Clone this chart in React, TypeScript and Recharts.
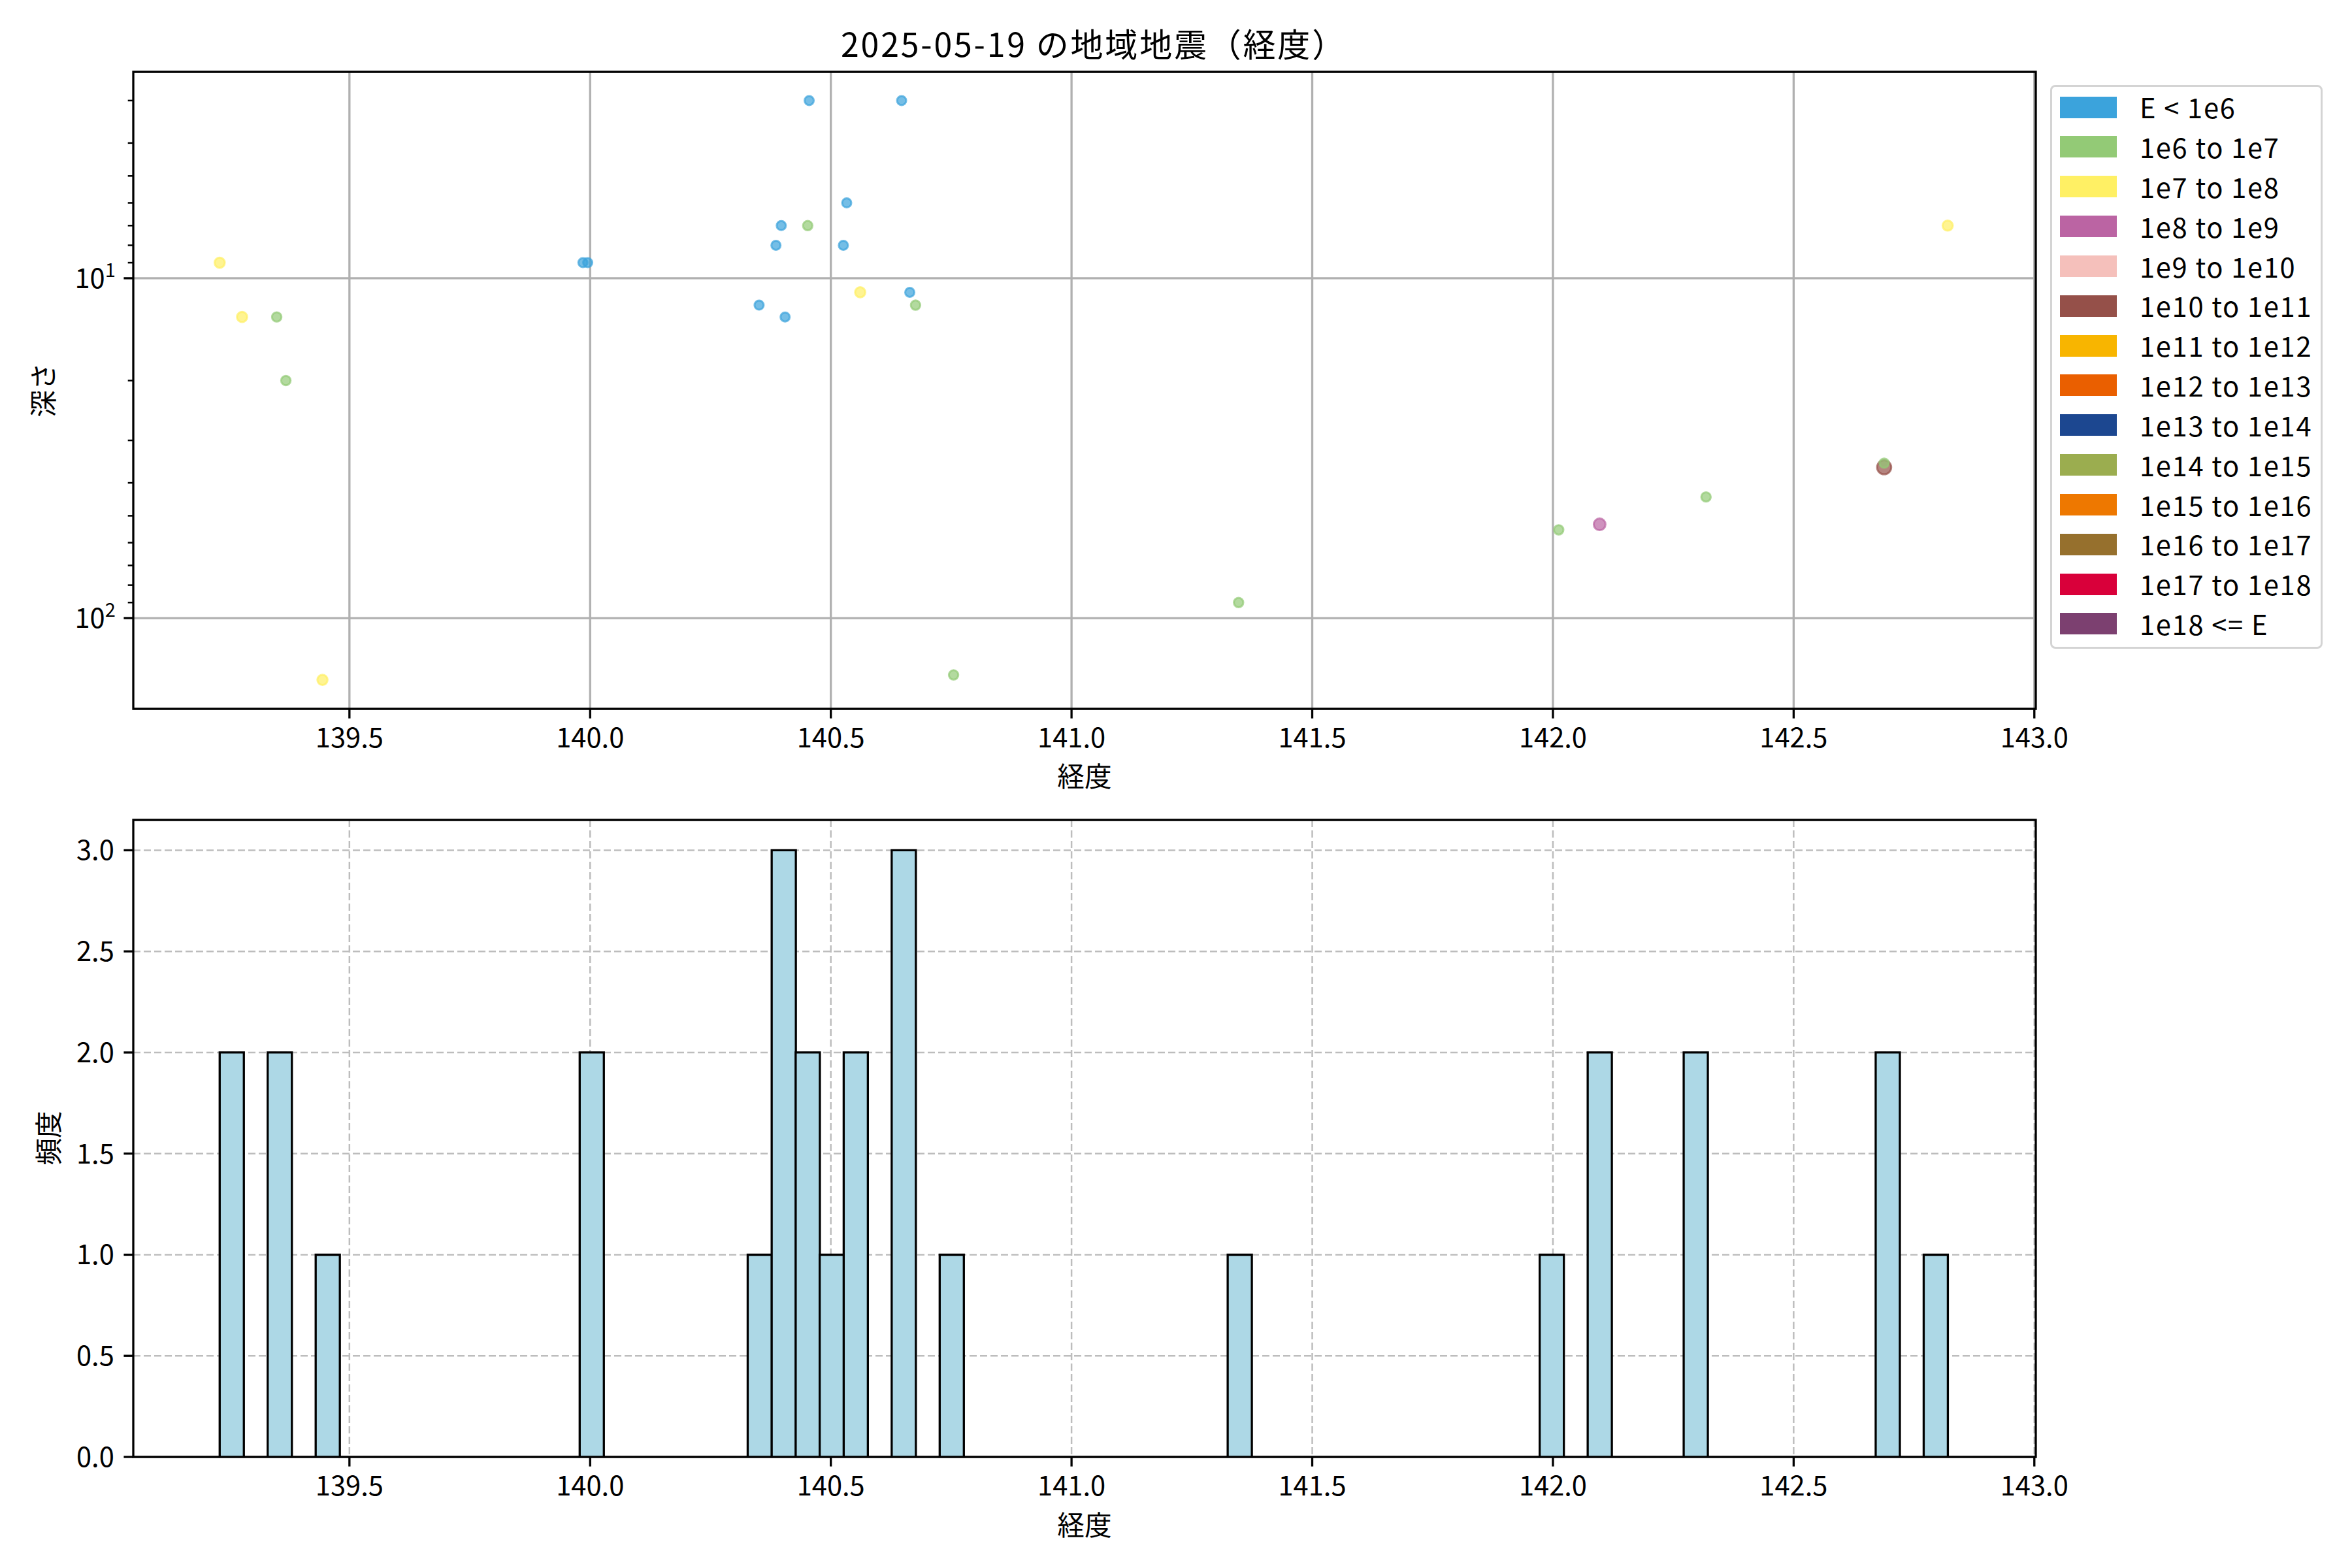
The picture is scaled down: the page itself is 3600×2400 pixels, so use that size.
import React from 'react';
import {
  ScatterChart,
  Scatter,
  ComposedChart,
  Bar,
  XAxis,
  YAxis,
  CartesianGrid,
  ReferenceArea,
} from 'recharts';

const FONT = '"Noto Sans CJK JP", "Noto Sans", sans-serif';

// energy classes (legend order)
const energyLabels = [
  'E < 1e6',
  '1e6 to 1e7',
  '1e7 to 1e8',
  '1e8 to 1e9',
  '1e9 to 1e10',
  '1e10 to 1e11',
  '1e11 to 1e12',
  '1e12 to 1e13',
  '1e13 to 1e14',
  '1e14 to 1e15',
  '1e15 to 1e16',
  '1e16 to 1e17',
  '1e17 to 1e18',
  '1e18 <= E',
];
const energyColors = [
  '#3ba3dc', '#93ca76', '#fff064', '#bb64a3', '#f5c0bb', '#955049', '#f8b500',
  '#ea5f00', '#1c4790', '#9bad4f', '#ee7800', '#96702d', '#d9003a', '#7c4070',
];

// events of the day: longitude, depth (km), energy class
// depth 0 can't be drawn on the log axis but still counts in the histogram
const quakeLon = [
  140.455, 140.647, 140.533, 140.397, 140.386, 140.526, 139.985, 139.995, 140.664, 140.351, 140.405,
  140.452, 139.349, 139.368, 140.676, 140.755, 141.347, 142.012, 142.318, 142.688,
  139.2305, 139.277, 139.444, 140.561, 142.82,
  142.097, 142.688,
  142.09, 142.3,
];
const quakeDepth = [
  3, 3, 6, 7, 8, 8, 9, 9, 11, 12, 13,
  7, 13, 20, 12, 147, 90, 55, 44, 35,
  9, 13, 152, 11, 7,
  53, 36,
  0, 0,
];
const quakeClass = [
  0, 0, 0, 0, 0, 0, 0, 0, 0, 0, 0,
  1, 1, 1, 1, 1, 1, 1, 1, 1,
  2, 2, 2, 2, 2,
  3, 5,
  1, 1,
];

const lonTicks = [139.5, 140.0, 140.5, 141.0, 141.5, 142.0, 142.5, 143.0];
const depthTicks = [3, 4, 5, 6, 7, 8, 9, 10, 20, 30, 40, 50, 60, 70, 80, 90, 100];
const depthMajor = [10, 100];
const countTicks = [0, 0.5, 1, 1.5, 2, 2.5, 3];
const HIST_BINS = 72;

const LON_DOMAIN: [number, number] = [139.051, 143.003];
const DEPTH_DOMAIN: [number, number] = [2.47, 185];
const COUNT_DOMAIN: [number, number] = [0, 3.15];

// marker radius per energy class
const dotRadius = [7, 7.2, 7.8, 9, 9.8, 10.8, 11.5, 12, 12.5, 13, 13.5, 14, 14.5, 15];

const TICK = 14.6;
const PAD = 14.6;
const FS = 41.67;

const scatterSeries = energyLabels.map((_, k) => {
  const pts: { lon: number; depth: number }[] = [];
  quakeLon.forEach((lon, i) => {
    if (quakeClass[i] === k && quakeDepth[i] > 0) pts.push({ lon, depth: quakeDepth[i] });
  });
  return pts;
});

const histRows = (() => {
  const lo = Math.min(...quakeLon);
  const hi = Math.max(...quakeLon);
  const w = (hi - lo) / HIST_BINS;
  const rows = Array.from({ length: HIST_BINS }, (_, i) => ({ center: lo + (i + 0.5) * w, count: 0 }));
  for (const v of quakeLon) {
    const i = Math.min(HIST_BINS - 1, Math.floor((v - lo) / w));
    rows[i].count += 1;
  }
  return rows;
})();

function DepthTick(props: any) {
  const { x, y, payload } = props;
  const v = payload.value as number;
  const right = x + TICK + PAD;
  const major = depthMajor.includes(v);
  if (!major) {
    return <line x1={right - 8.3} x2={right} y1={y} y2={y} stroke="#000" strokeWidth={2.5} />;
  }
  const exp = Math.round(Math.log10(v));
  return (
    <g>
      <line x1={right - TICK} x2={right} y1={y} y2={y} stroke="#000" strokeWidth={3.3} />
      <text x={x + 2} y={y} dy="0.36em" textAnchor="end" fontSize={FS} fontFamily={FONT} fill="#000">
        <tspan>10</tspan>
        <tspan dy={-17} fontSize={29}>{exp}</tspan>
      </text>
    </g>
  );
}

const tickStyle = { fontSize: FS, fill: '#000', fontFamily: FONT };

function CenterText({ x, y, size, rotate, spacing, children }: any) {
  return (
    <div
      style={{
        position: 'absolute',
        left: x,
        top: y,
        transform: `translate(-50%, -50%)${rotate ? ' rotate(-90deg)' : ''}`,
        fontSize: size,
        lineHeight: 1,
        fontFamily: FONT,
        letterSpacing: spacing || 0,
        whiteSpace: 'nowrap',
        color: '#000',
      }}
    >
      {children}
    </div>
  );
}

export default function App() {
  return (
    <div style={{ position: 'absolute', left: 0, top: 0, width: 3600, height: 2400, background: '#fff', fontFamily: FONT }}>
      <CenterText x={1674} y={65} size={50} spacing={2.8}>2025-05-19 の地域地震（経度）</CenterText>

      <div style={{ position: 'absolute', left: 0, top: 0 }}>
        <ScatterChart width={3600} height={1250} margin={{ top: 110, right: 484, bottom: 105, left: 54 }}>
          <CartesianGrid stroke="#b0b0b0" strokeWidth={3.3} horizontalValues={depthMajor} verticalValues={lonTicks} />
          <XAxis
            type="number"
            dataKey="lon"
            domain={LON_DOMAIN}
            allowDataOverflow
            ticks={lonTicks}
            interval={0}
            height={60}
            axisLine={false}
            tickSize={TICK}
            tickMargin={PAD}
            tickLine={{ stroke: '#000', strokeWidth: 3.3 }}
            tick={tickStyle}
            tickFormatter={(v: number) => v.toFixed(1)}
          />
          <YAxis
            type="number"
            dataKey="depth"
            scale="log"
            reversed
            domain={DEPTH_DOMAIN}
            allowDataOverflow
            ticks={depthTicks}
            interval={0}
            width={150}
            axisLine={false}
            tickLine={false}
            tickSize={TICK}
            tickMargin={PAD}
            tick={<DepthTick />}
          />
          <ReferenceArea
            x1={LON_DOMAIN[0]}
            x2={LON_DOMAIN[1]}
            y1={DEPTH_DOMAIN[0]}
            y2={DEPTH_DOMAIN[1]}
            fill="none"
            fillOpacity={0}
            stroke="#000"
            strokeWidth={3.3}
            ifOverflow="visible"
          />
          {scatterSeries
            .map((pts, k) => (
              <Scatter
                key={energyLabels[k]}
                name={energyLabels[k]}
                data={pts}
                fill={energyColors[k]}
                isAnimationActive={false}
                shape={(p: any) => (
                  <circle
                    cx={p.cx}
                    cy={p.cy}
                    r={dotRadius[k]}
                    fill={energyColors[k]}
                    fillOpacity={0.7}
                    stroke={energyColors[k]}
                    strokeOpacity={0.7}
                    strokeWidth={3}
                  />
                )}
              />
            ))
            .reverse()}
        </ScatterChart>
      </div>

      <CenterText x={1660} y={1187} size={FS}>経度</CenterText>
      <CenterText x={65} y={597} size={FS} rotate>深さ</CenterText>

      {/* legend */}
      <div
        style={{
          position: 'absolute',
          left: 3138,
          top: 130,
          width: 417,
          height: 863,
          border: '3px solid #d4d4d4',
          borderRadius: 8,
          boxSizing: 'border-box',
          background: 'rgba(255,255,255,0.8)',
        }}
      >
        {energyLabels.map((lab, i) => {
          const cy = 31 + i * 60.84;
          return (
            <React.Fragment key={lab}>
              <div
                style={{
                  position: 'absolute',
                  left: 12,
                  top: cy - 16.5,
                  width: 87,
                  height: 33,
                  background: energyColors[i],
                }}
              />
              <div
                style={{
                  position: 'absolute',
                  left: 134,
                  top: cy - FS / 2,
                  fontSize: FS,
                  lineHeight: 1,
                  fontFamily: FONT,
                  letterSpacing: 1.7,
                  whiteSpace: 'nowrap',
                  color: '#000',
                }}
              >
                {lab}
              </div>
            </React.Fragment>
          );
        })}
      </div>

      <div style={{ position: 'absolute', left: 0, top: 1200 }}>
        <ComposedChart
          width={3600}
          height={1100}
          data={histRows}
          margin={{ top: 55, right: 484, bottom: 10, left: 54 }}
          barCategoryGap={0}
          barGap={0}
        >
          <CartesianGrid stroke="#bdbdbd" strokeWidth={2.5} strokeDasharray="11 5" horizontalValues={countTicks} verticalValues={lonTicks} />
          <XAxis
            type="number"
            dataKey="center"
            domain={LON_DOMAIN}
            allowDataOverflow
            ticks={lonTicks}
            interval={0}
            height={60}
            axisLine={false}
            tickSize={TICK}
            tickMargin={PAD}
            tickLine={{ stroke: '#000', strokeWidth: 3.3 }}
            tick={tickStyle}
            tickFormatter={(v: number) => v.toFixed(1)}
          />
          <YAxis
            type="number"
            domain={COUNT_DOMAIN}
            allowDataOverflow
            ticks={countTicks}
            interval={0}
            width={150}
            axisLine={false}
            tickSize={TICK}
            tickMargin={PAD}
            tickLine={{ stroke: '#000', strokeWidth: 3.3 }}
            tick={tickStyle}
            tickFormatter={(v: number) => v.toFixed(1)}
          />
          <Bar dataKey="count" fill="#add8e6" stroke="#000" strokeWidth={3.3} isAnimationActive={false} />
          <ReferenceArea
            x1={LON_DOMAIN[0]}
            x2={LON_DOMAIN[1]}
            y1={COUNT_DOMAIN[0]}
            y2={COUNT_DOMAIN[1]}
            fill="none"
            fillOpacity={0}
            stroke="#000"
            strokeWidth={3.3}
            ifOverflow="visible"
          />
        </ComposedChart>
      </div>

      <CenterText x={1660} y={2333} size={FS}>経度</CenterText>
      <CenterText x={73} y={1742} size={FS} rotate>頻度</CenterText>
    </div>
  );
}
